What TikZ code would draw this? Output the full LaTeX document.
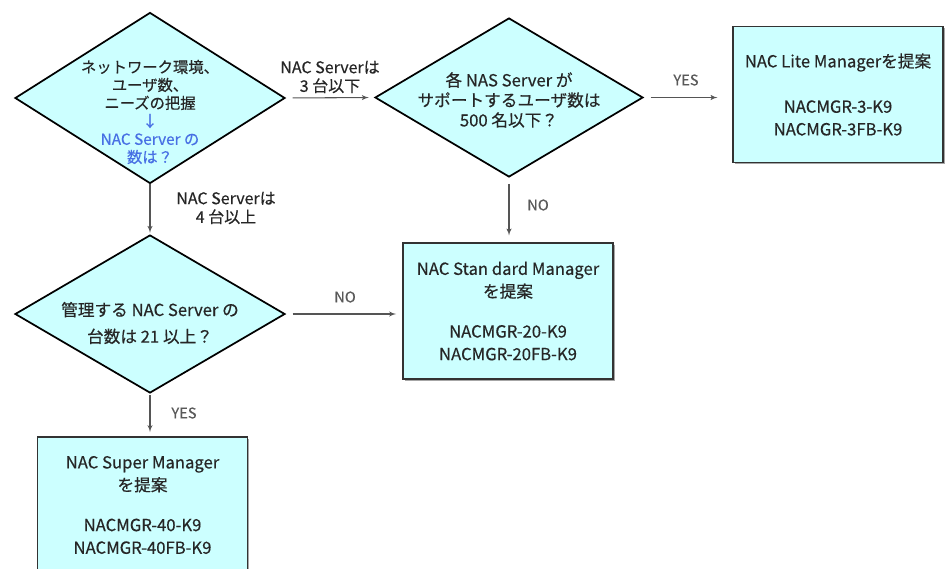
\documentclass[tikz,border=0pt]{standalone}
\usepackage{fontspec}
\setmainfont{Noto Sans CJK JP}[FakeBold=0.4]
\usetikzlibrary{arrows,shapes.geometric,shadows}
\definecolor{paleblue}{RGB}{204,255,255}
\definecolor{qblue}{RGB}{72,112,228}
\definecolor{linegray}{RGB}{85,85,85}

\begin{document}
\begin{tikzpicture}[x=0.75pt,y=-0.75pt]
			\tikzset{decision/.style = {shape=diamond,draw,line width=1.3pt,fill=paleblue,inner sep=0pt}}
			\tikzset{txt/.style = {align=center,text=black!85,inner sep=0pt}}
			\tikzset{box/.style = {draw=black!80,line width=1.3pt,fill=paleblue,
					minimum width=157.5pt,minimum height=102pt,align=center,text=black!85,
					font=\fontsize{12.5}{17}\selectfont,
					drop shadow={shadow xshift=1.3pt,shadow yshift=-1.3pt,fill=black!35,opacity=1}}}
			\tikzset{edge/.style = {->,> = latex',draw=linegray,line width=0.8pt}}
			\tikzset{yesno/.style = {font=\fontsize{11}{13}\selectfont,text=black!65}}
			\useasboundingbox (0,0) rectangle (945,568);
			% vertices
			\node[decision,minimum width=202.5pt,minimum height=128.25pt] (a) at (150,98) {};
			\node[decision,minimum width=201pt,minimum height=119.25pt] (b) at (509,97.5) {};
			\node[decision,minimum width=202.5pt,minimum height=118.5pt] (c) at (150,314) {};
			\node[box] (d) at (838,94.5) {NAC Lite Managerを提案\\[17pt]NACMGR-3-K9\\NACMGR-3FB-K9};
			\node[box] (e) at (508,311) {NAC Stan dard Manager\\を提案\\[13pt]NACMGR-20-K9\\NACMGR-20FB-K9};
			\node[box] (f) at (142.5,505) {NAC Super Manager\\を提案\\[13pt]NACMGR-40-K9\\NACMGR-40FB-K9};
			
			% texts in the diamonds
			\node[txt,font=\fontsize{11.5}{13.5}\selectfont] (ta) at (150,112)
				{ネットワーク環境、\\ユーザ数、\\ニーズの把握\\{\color{qblue}↓}\\{\color{qblue}NAC Server の}\\{\color{qblue}数は？}};
			\node[txt,font=\fontsize{12.5}{15}\selectfont] (tb) at (509,100)
				{各 NAS Server が\\サポートするユーザ数は\\500 名以下？};
			\node[txt,font=\fontsize{12.5}{20}\selectfont] (tc) at (150,323)
				{管理する NAC Server の\\台数は 21 以上？};
			
			% labels
			\node[txt,font=\fontsize{12}{14}\selectfont] (la) at (330,77) {NAC Serverは\\3 台以下};
			\node[txt,font=\fontsize{12}{14}\selectfont] (lb) at (226,208) {NAC Serverは\\4 台以上};
			\node[yesno] (lc) at (686,80) {YES};
			\node[yesno] (ld) at (538,205) {NO};
			\node[yesno] (le) at (345,297) {NO};
			\node[yesno] (lf) at (184,413) {YES};
			
			%edges
			\draw[edge,shorten <=5pt,shorten >=4pt] (a.east) to (b.west);
			\draw[edge,shorten >=1pt] (a.south) to (c.north);
			\draw[edge,shorten <=5pt,shorten >=11pt] (b.east) to (b.east -| d.west);
			\draw[edge,shorten <=4.5pt,shorten >=5pt] (b.south) to (b.south |- e.north);
			\draw[edge,shorten <=5pt,shorten >=4.5pt] (c.east) to (c.east -| e.west);
			\draw[edge,shorten <=1pt,shorten >=3pt] (c.south) to (c.south |- f.north);
\end{tikzpicture}
\end{document}
